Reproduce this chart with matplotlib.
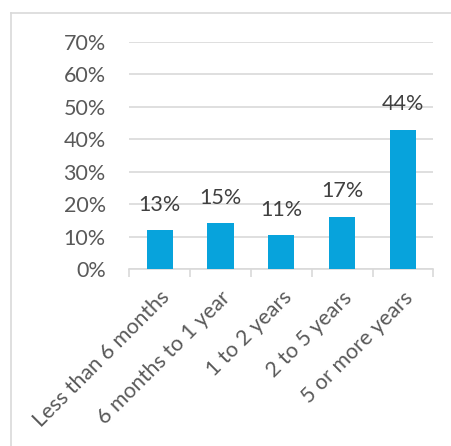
import numpy as np
import matplotlib
matplotlib.use('Agg')
import matplotlib.pyplot as plt
from matplotlib.lines import Line2D

categories = ["Less than 6 months", "6 months to 1 year", "1 to 2 years", "2 to 5 years", "5 or more years"]
bar_values = [0.120, 0.143, 0.105, 0.162, 0.430]
label_text = ["13%", "15%", "11%", "17%", "44%"]
yticks = [0, 0.1, 0.2, 0.3, 0.4, 0.5, 0.6, 0.7]

plt.rcParams['font.family'] = ['Lato', 'DejaVu Sans']

fig = plt.figure(figsize=(4.51, 4.46), dpi=100)
W, H = 451, 446
ax = fig.add_axes([129.3 / W, 1 - 269.3 / H, (433.3 - 129.3) / W, (269.3 - 42) / H])

x = np.arange(len(categories))
ax.bar(x, bar_values, width=0.43, color='#07A3DC', zorder=3)
for xi, v, t in zip(x, bar_values, label_text):
    ax.annotate(t, (xi, v), xytext=(0, 11), textcoords='offset points',
                ha='center', va='bottom', fontsize=15.5, color='#404040')

ax.set_xlim(-0.5, len(categories) - 0.5)
ax.set_ylim(0, 0.7)
ax.set_yticks(yticks)
ax.set_yticklabels(["%d%%" % round(v * 100) for v in yticks])
ax.grid(axis='y', color='#d9d9d9', linewidth=1.2, zorder=0)
ax.set_xticks(x)
ax.set_xticklabels(categories, rotation=45, ha='right', va='top', rotation_mode='anchor')
ax.set_xticks(np.arange(-0.5, len(categories)), minor=True)
ax.tick_params(axis='x', which='major', length=0, pad=13, labelsize=15.5, labelcolor='#595959')
ax.tick_params(axis='x', which='minor', length=6, color='#d9d9d9', width=1.2)
ax.tick_params(axis='y', length=0, pad=17, labelsize=15.5, labelcolor='#595959')
for s in ['top', 'right', 'left']:
    ax.spines[s].set_visible(False)
ax.spines['bottom'].set_color('#d9d9d9')
ax.spines['bottom'].set_linewidth(1.2)

# chart border (left and top visible)
fig.add_artist(Line2D([10.5 / W, 10.5 / W], [0, 1 - 13 / H], color='#d9d9d9', linewidth=1.2))
fig.add_artist(Line2D([10.5 / W, 1], [1 - 13 / H, 1 - 13 / H], color='#d9d9d9', linewidth=1.2))

plt.savefig("out.png", dpi=100)
plt.close()
